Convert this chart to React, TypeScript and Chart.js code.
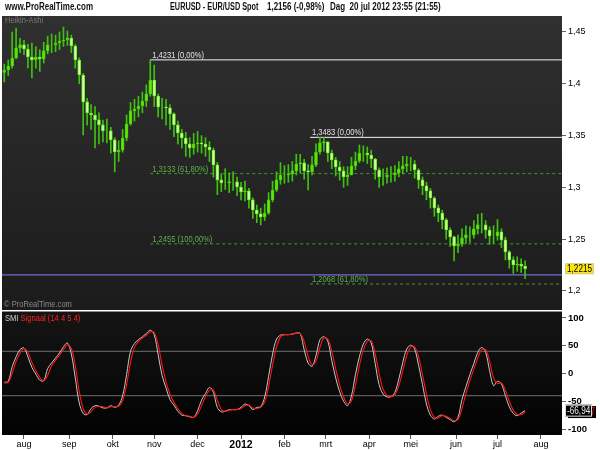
import { useEffect, useRef } from 'react';
import { Chart, registerables } from 'chart.js';

Chart.register(...registerables);

// ---- data ----
// Heikin-Ashi candles, one per two trading days; day 0 = 1 Aug 2011
const firstCandleDay = -10;
const candleDayStep = 2;
const haFirstOpen = 1.411;
const haClose = [
  1.4133, 1.4172, 1.4249, 1.4346, 1.4375, 1.4336, 1.4259, 1.423, 1.4259, 1.4239,
  1.4317, 1.4375, 1.4375, 1.4394, 1.4413, 1.4423, 1.4442, 1.4365, 1.423, 1.4085,
  1.3825, 1.3718, 1.3699, 1.3651, 1.3603, 1.3545, 1.3545, 1.3458, 1.3342, 1.3361,
  1.3477, 1.3612, 1.3738, 1.3757, 1.3786, 1.3834, 1.3902, 1.4037, 1.3882, 1.3776,
  1.3776, 1.3767, 1.3709, 1.3603, 1.3525, 1.3477, 1.3419, 1.3381, 1.3419, 1.3429,
  1.3419, 1.339, 1.3361, 1.3217, 1.3072, 1.3043, 1.3043, 1.3053, 1.3053, 1.3004,
  1.2956, 1.2966, 1.2879, 1.2782, 1.2744, 1.2715, 1.2753, 1.2879, 1.2975, 1.3072,
  1.312, 1.312, 1.313, 1.3159, 1.3226, 1.3236, 1.3159, 1.3149, 1.3217, 1.3342,
  1.3429, 1.3439, 1.3332, 1.3265, 1.3197, 1.3159, 1.3101, 1.312, 1.3207, 1.3255,
  1.3332, 1.3332, 1.3313, 1.3274, 1.3168, 1.3101, 1.3101, 1.312, 1.312, 1.3139,
  1.3178, 1.3207, 1.3226, 1.3226, 1.3168, 1.3072, 1.3014, 1.2966, 1.2898, 1.2802,
  1.2753, 1.2686, 1.2589, 1.2522, 1.2435, 1.2454, 1.2512, 1.2541, 1.2541, 1.2599,
  1.2638, 1.2638, 1.2589, 1.2531, 1.2531, 1.257, 1.2493, 1.2377, 1.23, 1.2252,
  1.2261, 1.224, 1.2215,
];
const haHigh = [
  1.419, 1.423, 1.45, 1.4539, 1.444, 1.442, 1.438, 1.4394, 1.436, 1.433,
  1.44, 1.446, 1.448, 1.447, 1.45, 1.4548, 1.451, 1.447, 1.438, 1.425,
  1.41, 1.386, 1.38, 1.378, 1.372, 1.365, 1.366, 1.358, 1.348, 1.345,
  1.356, 1.37, 1.382, 1.385, 1.388, 1.392, 1.399, 1.4231, 1.418, 1.39,
  1.386, 1.385, 1.38, 1.372, 1.364, 1.356, 1.353, 1.348, 1.352, 1.354,
  1.35, 1.348, 1.344, 1.338, 1.324, 1.313, 1.318, 1.314, 1.315, 1.31,
  1.305, 1.306, 1.299, 1.29, 1.283, 1.28, 1.284, 1.295, 1.306, 1.315,
  1.324, 1.321, 1.322, 1.325, 1.332, 1.332, 1.327, 1.322, 1.33, 1.342,
  1.3483, 1.3483, 1.344, 1.336, 1.329, 1.325, 1.32, 1.32, 1.329, 1.334,
  1.341, 1.34, 1.339, 1.336, 1.328, 1.319, 1.318, 1.319, 1.32, 1.321,
  1.325, 1.33, 1.33, 1.329, 1.326, 1.318, 1.31, 1.305, 1.299, 1.291,
  1.283, 1.278, 1.27, 1.261, 1.253, 1.254, 1.26, 1.263, 1.262, 1.268,
  1.274, 1.275, 1.268, 1.262, 1.263, 1.269, 1.26, 1.252, 1.239, 1.233,
  1.233, 1.231, 1.229,
];
const haLow = [
  1.4018, 1.408, 1.415, 1.424, 1.43, 1.428, 1.4153, 1.4056, 1.415, 1.412,
  1.42, 1.429, 1.43, 1.431, 1.433, 1.436, 1.437, 1.43, 1.415, 1.4,
  1.3506, 1.36, 1.356, 1.3381, 1.342, 1.344, 1.343, 1.333, 1.3149, 1.325,
  1.334, 1.345, 1.36, 1.364, 1.368, 1.372, 1.378, 1.388, 1.378, 1.368,
  1.366, 1.36, 1.356, 1.349, 1.342, 1.338, 1.33, 1.329, 1.332, 1.334,
  1.333, 1.33, 1.325, 1.31, 1.293, 1.296, 1.298, 1.295, 1.297, 1.292,
  1.288, 1.287, 1.28, 1.27, 1.266, 1.2638, 1.268, 1.274, 1.286, 1.296,
  1.303, 1.304, 1.305, 1.306, 1.312, 1.314, 1.308, 1.2975, 1.312, 1.32,
  1.332, 1.335, 1.325, 1.318, 1.311, 1.307, 1.3, 1.302, 1.312, 1.317,
  1.324, 1.325, 1.323, 1.319, 1.308, 1.3, 1.302, 1.304, 1.305, 1.306,
  1.31, 1.313, 1.315, 1.316, 1.309, 1.299, 1.293, 1.288, 1.28, 1.272,
  1.267, 1.26, 1.25, 1.243, 1.229, 1.237, 1.243, 1.246, 1.247, 1.251,
  1.255, 1.256, 1.251, 1.245, 1.246, 1.249, 1.242, 1.23, 1.222, 1.217,
  1.219, 1.218, 1.212,
];
const smiValues = [
  -16, -14, 12, 30, 43, 46, 30, 11, -1, -12,
  -13, 9, 19, 28, 37, 48, 55, 35, -8, -53,
  -72, -74, -63, -58, -59, -62, -62, -58, -61, -57,
  -40, -2, 40, 54, 61, 66, 72, 78, 70, 34,
  -4, -26, -47, -57, -68, -75, -76, -78, -79, -67,
  -48, -36, -25, -34, -61, -69, -68, -65, -65, -65,
  -61, -55, -58, -65, -61, -60, -42, -5, 35, 62,
  69, 70, 70, 71, 73, 72, 43, 19, 13, 32,
  61, 66, 58, 23, -8, -33, -50, -58, -40, -2,
  30, 53, 62, 55, 18, -20, -37, -42, -42, -34,
  -10, 20, 44, 51, 44, 15, -20, -55, -75, -82,
  -77, -75, -79, -83, -87, -79, -47, -24, -2, 18,
  38, 47, 38, 5, -22, -14, -19, -40, -60, -72,
  -76, -71, -67,
];
const signalValues = [
  -17, -16, 0, 22, 37, 45, 38, 20, 5, -7,
  -13, -3, 14, 24, 33, 43, 52, 45, 14, -32,
  -63, -73, -69, -61, -59, -60, -62, -60, -60, -59,
  -49, -20, 20, 47, 58, 64, 69, 75, 74, 52,
  15, -15, -37, -52, -63, -72, -76, -77, -79, -73,
  -58, -42, -30, -30, -48, -65, -68, -66, -65, -65,
  -63, -58, -57, -62, -63, -61, -51, -23, 15, 48,
  66, 70, 70, 71, 72, 72, 58, 31, 16, 22,
  47, 64, 62, 40, 8, -20, -42, -55, -49, -21,
  14, 42, 58, 59, 36, 0, -28, -40, -42, -38,
  -22, 5, 32, 48, 48, 30, -2, -37, -65, -79,
  -80, -76, -77, -81, -85, -83, -63, -36, -13, 8,
  28, 43, 43, 22, -8, -18, -17, -30, -50, -66,
  -74, -74, -70,
];
const lastPrice = 1.2156;
const lastSmi = -66.94;
const lastSignal = -69.47;

const fibValues = [1.4231, 1.3133, 1.2455, 1.3483, 1.2068];
const fibLabels = ['1,4231 (0,00%)', '1,3133 (61,80%)', '1,2455 (100,00%)', '1,3483 (0,00%)', '1,2068 (61,80%)'];
const fibStartDays = [64, 64, 64, 145, 145];
const fibDashed = [false, true, true, false, true];

const monthStartDays = [0, 23, 45, 66, 88, 110, 132, 153, 175, 196, 219, 240, 262];
const monthLabels = ['aug', 'sep', 'okt', 'nov', 'dec', '2012', 'feb', 'mrt', 'apr', 'mei', 'jun', 'jul', 'aug'];
const priceTicks = [1.2, 1.25, 1.3, 1.35, 1.4, 1.45];
const smiTicks = [-100, -50, 0, 50, 100];
const smiBands = [40, -40];

// ---- view ranges ----
const dayMin = -11.15;
const dayMax = 272.7;
const priceMin = 1.18069;
const priceMax = 1.46544;
const smiMin = -110.8;
const smiMax = 112.6;

const FONT = '"Liberation Sans", Arial, sans-serif';

const comma = (v: number, d?: number) => (d === undefined ? String(Number(v.toFixed(4))) : v.toFixed(d)).replace('.', ',');

const candleDay = (i: number) => firstCandleDay + candleDayStep * i;
const haOpen = (i: number) => (i === 0 ? haFirstOpen : haClose[i - 1]);

function narrowText(ctx: CanvasRenderingContext2D, s: string, x: number, y: number, sx = 0.84) {
  ctx.save();
  ctx.translate(x, y);
  ctx.scale(sx, 1);
  ctx.fillText(s, 0, 0);
  ctx.restore();
}

const overlayPlugin = {
  id: 'prtOverlay',
  beforeDraw(chart: any) {
    const { ctx, chartArea } = chart;
    const y = chart.scales.y;
    const y2 = chart.scales.y2;
    const l = chartArea.left;
    const w = chartArea.right - chartArea.left;
    ctx.save();
    let g = ctx.createLinearGradient(0, y.top, 0, y.bottom);
    g.addColorStop(0, '#303030');
    g.addColorStop(1, '#1b1b1b');
    ctx.fillStyle = g;
    ctx.fillRect(l, y.top, w, y.bottom - y.top);
    g = ctx.createLinearGradient(0, y2.top, 0, y2.bottom);
    g.addColorStop(0, '#151515');
    g.addColorStop(1, '#020202');
    ctx.fillStyle = g;
    ctx.fillRect(l, y2.top, w, y2.bottom - y2.top);
    ctx.fillStyle = '#ffffff';
    ctx.fillRect(l, y.bottom - 1, w, 1.5);
    ctx.restore();
  },
  afterDraw(chart: any) {
    const { ctx, chartArea } = chart;
    const x = chart.scales.x;
    const y = chart.scales.y;
    const y2 = chart.scales.y2;
    const l = chartArea.left;
    const r = chartArea.right;
    ctx.save();
    ctx.font = `9px ${FONT}`;
    ctx.textBaseline = 'alphabetic';
    fibValues.forEach((v, i) => {
      ctx.fillStyle = fibDashed[i] ? '#62b04a' : '#e4e4e4';
      narrowText(ctx, fibLabels[i], x.getPixelForValue(fibStartDays[i]) + 2, y.getPixelForValue(v) - 2);
    });
    ctx.textBaseline = 'top';
    ctx.fillStyle = '#7c7c7c';
    narrowText(ctx, 'Heikin-Ashi', l + 3, y.top + 0.5);
    ctx.fillStyle = '#8a8a8a';
    narrowText(ctx, '© ProRealTime.com', l + 2, y.bottom - 10.5);
    ctx.fillStyle = '#d0d0d0';
    narrowText(ctx, 'SMI', l + 3, y2.top + 3.5);
    const sw = ctx.measureText('SMI ').width * 0.84;
    ctx.fillStyle = '#ff2222';
    narrowText(ctx, 'Signaal (14 4 5 4)', l + 3 + sw, y2.top + 3.5);

    // last Heikin-Ashi close label
    const py = y.getPixelForValue(haClose[haClose.length - 1]);
    ctx.fillStyle = '#ffe600';
    ctx.fillRect(r + 3, py - 5.5, 29, 11);
    ctx.strokeStyle = '#c8c8c8';
    ctx.lineWidth = 1;
    ctx.strokeRect(r + 3.5, py - 5, 28, 10);
    ctx.fillStyle = '#000';
    ctx.font = `10px ${FONT}`;
    ctx.textBaseline = 'middle';
    narrowText(ctx, comma(haClose[haClose.length - 1], 4), r + 5, py + 0.5, 0.82);

    // last signal (behind) and SMI value labels
    const gy = y2.getPixelForValue(lastSignal);
    ctx.fillStyle = '#000';
    ctx.fillRect(r + 6, gy - 6, 28, 12);
    ctx.fillStyle = '#ff1a1a';
    ctx.textAlign = 'right';
    narrowText(ctx, comma(lastSignal, 2), r + 33, gy + 0.5, 0.82);
    const sy = y2.getPixelForValue(lastSmi);
    ctx.fillStyle = '#000';
    ctx.fillRect(r + 3, sy - 6, 27, 12);
    ctx.strokeStyle = '#e0e0e0';
    ctx.strokeRect(r + 3.5, sy - 5.5, 26, 11);
    ctx.fillStyle = '#f0f0f0';
    ctx.textAlign = 'left';
    narrowText(ctx, comma(lastSmi, 2), r + 5, sy + 0.5, 0.82);
    ctx.restore();
  },
};

export default function App() {
  const canvasRef = useRef<HTMLCanvasElement | null>(null);

  useEffect(() => {
    const canvas = canvasRef.current;
    if (!canvas) return;

    const bodies = haClose.map((c, i) => ({ x: candleDay(i), y: [haOpen(i), c] }));
    const wicks = haClose.map((_, i) => ({ x: candleDay(i), y: [haLow[i], haHigh[i]] }));
    const smiPts = smiValues.map((v, i) => ({ x: candleDay(i), y: v }));
    const sigPts = signalValues.map((v, i) => ({ x: candleDay(i), y: v }));
    const isDown = (i: number) => haClose[i] < haOpen(i);

    const hLine = (from: number, level: number) => [
      { x: from, y: level },
      { x: dayMax, y: level },
    ];

    const fibSets = fibValues.map((v, i) => ({
      type: 'line' as const,
      data: hLine(fibStartDays[i], v),
      yAxisID: 'y',
      borderColor: fibDashed[i] ? '#3d9a36' : '#f2f2f2',
      borderWidth: 1,
      borderDash: fibDashed[i] ? [3, 3] : [],
      pointRadius: 0,
      order: 5,
    }));

    const chart = new Chart(canvas, {
      type: 'bar',
      data: {
        datasets: [
          {
            type: 'bar',
            data: bodies as any,
            yAxisID: 'y',
            grouped: false,
            barThickness: 3,
            borderWidth: 1,
            borderSkipped: false,
            backgroundColor: (c: any) => (isDown(c.dataIndex) ? '#d2ffb4' : '#5ee80a'),
            borderColor: (c: any) => (isDown(c.dataIndex) ? '#70f014' : '#4cd004'),
            order: 1,
          },
          {
            type: 'bar',
            data: wicks as any,
            yAxisID: 'y',
            grouped: false,
            barThickness: 1,
            borderWidth: 0,
            backgroundColor: '#3fc012',
            order: 2,
          },
          ...fibSets,
          {
            type: 'line',
            data: hLine(dayMin, lastPrice),
            yAxisID: 'y',
            borderColor: '#6c6cd4',
            borderWidth: 1.2,
            pointRadius: 0,
            order: 6,
          },
          {
            type: 'line',
            data: sigPts,
            yAxisID: 'y2',
            borderColor: '#ff1414',
            borderWidth: 1.1,
            pointRadius: 0,
            tension: 0.35,
            order: 3,
          },
          {
            type: 'line',
            data: smiPts,
            yAxisID: 'y2',
            borderColor: '#c8c8c8',
            borderWidth: 1,
            pointRadius: 0,
            tension: 0.35,
            order: 4,
          },
          ...smiBands.map((b) => ({
            type: 'line' as const,
            data: hLine(dayMin, b),
            yAxisID: 'y2',
            borderColor: '#6e6e6e',
            borderWidth: 1,
            pointRadius: 0,
            order: 7,
          })),
        ] as any,
      },
      options: {
        responsive: false,
        animation: false,
        events: [],
        layout: { padding: { top: 16, left: 2, right: 0, bottom: 0 } },
        plugins: { legend: { display: false }, tooltip: { enabled: false } },
        scales: {
          x: {
            type: 'linear',
            min: dayMin,
            max: dayMax,
            offset: false,
            position: 'bottom',
            afterBuildTicks: (s: any) => {
              s.ticks = monthStartDays.map((v) => ({ value: v }));
            },
            afterFit: (s: any) => {
              s.height = 15;
            },
            grid: { drawOnChartArea: false, drawTicks: true, tickLength: 4, color: '#555', offset: false },
            border: { display: false },
            ticks: {
              autoSkip: false,
              maxRotation: 0,
              padding: 0,
              color: '#000',
              font: (c: any) =>
                c.tick && monthLabels[monthStartDays.indexOf(c.tick.value)] === '2012'
                  ? { family: FONT, size: 10.5, weight: 'bold' }
                  : { family: FONT, size: 9 },
              callback: (v: any) => monthLabels[monthStartDays.indexOf(Number(v))] ?? '',
            },
          },
          y: {
            type: 'linear',
            position: 'right',
            stack: 'panes',
            stackWeight: 295,
            min: priceMin,
            max: priceMax,
            afterBuildTicks: (s: any) => {
              s.ticks = priceTicks.map((v) => ({ value: v }));
            },
            afterFit: (s: any) => {
              s.width = 38;
            },
            grid: { drawOnChartArea: false, drawTicks: true, tickLength: 4, color: '#666' },
            border: { display: false },
            ticks: {
              autoSkip: false,
              padding: 2,
              color: '#000',
              font: { family: FONT, size: 9 },
              callback: (v: any) => comma(Number(v)),
            },
          },
          y2: {
            type: 'linear',
            position: 'right',
            stack: 'panes',
            stackWeight: 124,
            min: smiMin,
            max: smiMax,
            afterBuildTicks: (s: any) => {
              s.ticks = smiTicks.map((v) => ({ value: v }));
            },
            afterFit: (s: any) => {
              s.width = 38;
            },
            grid: { drawOnChartArea: false, drawTicks: true, tickLength: 4, color: '#666' },
            border: { display: false },
            ticks: {
              autoSkip: false,
              padding: 2,
              color: '#000',
              font: { family: FONT, size: 9.5, weight: 'bold' },
              callback: (v: any) => String(v),
            },
          },
        },
      } as any,
      plugins: [overlayPlugin],
    });

    return () => chart.destroy();
  }, []);

  const head: React.CSSProperties = {
    position: 'absolute',
    top: 1,
    font: `bold 10px ${FONT}`,
    color: '#111',
    whiteSpace: 'nowrap',
    lineHeight: '12px',
    transform: 'scaleX(0.8)',
    transformOrigin: 'left top',
  };

  return (
    <div style={{ position: 'fixed', left: 0, top: 0, width: 600, height: 450, background: '#fff', overflow: 'hidden' }}>
      <canvas ref={canvasRef} width={600} height={450} style={{ position: 'absolute', left: 0, top: 0, width: 600, height: 450 }} />
      <span style={{ ...head, left: 5 }}>www.ProRealTime.com</span>
      <span style={{ ...head, left: 170, transform: 'scaleX(0.73)' }}>EURUSD - EUR/USD Spot</span>
      <span style={{ ...head, left: 267 }}>1,2156 (-0,98%)</span>
      <span style={{ ...head, left: 330 }}>Dag&nbsp; 20 jul 2012 23:55 (21:55)</span>
    </div>
  );
}
